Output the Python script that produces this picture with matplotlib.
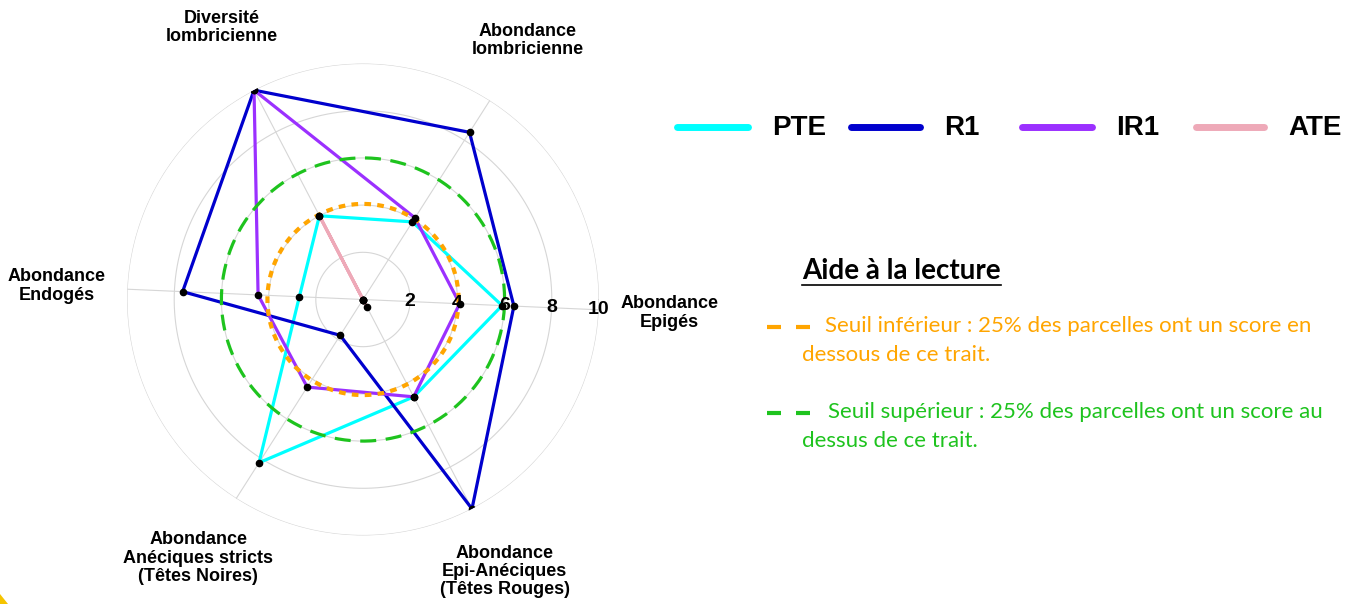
import numpy as np
import matplotlib
matplotlib.use("Agg")
import matplotlib.pyplot as plt

# ---------------- data ----------------
axis_labels = ["Diversité\nlombricienne", "Abondance\nlombricienne", "Abondance\nEpigés",
               "Abondance\nEpi-Anéciques\n(Têtes Rouges)",
               "Abondance\nAnéciques stricts\n(Têtes Noires)", "Abondance\nEndogés"]
series_names = ["PTE", "R1", "IR1", "ATE"]
pte = [4.0, 3.9, 5.9, 4.65, 8.2, 2.7]
r1 = [10.0, 8.4, 6.4, 10.0, 1.8, 7.65]
ir1 = [10.0, 4.1, 4.1, 4.65, 4.4, 4.45]
ate = [4.0, 0.0, 0.0, 0.35, 0.0, 0.0]
seuil_inf = 4.05
seuil_sup = 6.0
grid_levels = [2, 4, 6, 8, 10]
tick_labels = ["2", "4", "6", "8", "10"]
colors = ["#00FFFF", "#0000CD", "#9B30FF", "#EEA9B8"]

W, H = 1354, 604
fig = plt.figure(figsize=(W / 100, H / 100), dpi=100)
fig.patch.set_facecolor("white")

# overlay axes in pixel coordinates for legend / notes
ov = fig.add_axes([0, 0, 1, 1], zorder=0)
ov.set_xlim(0, W)
ov.set_ylim(H, 0)
ov.set_axis_off()
ov.patch.set_alpha(0)

# ---------------- radar ----------------
cx, cy, R = 363, 299.5, 236
ax = fig.add_axes([(cx - R) / W, (H - cy - R) / H, 2 * R / W, 2 * R / H],
                  projection="polar", zorder=1)
ax.set_ylim(0, 10)
ax.set_axis_off()
ax.patch.set_alpha(0)

n = len(axis_labels)
angles = np.deg2rad(117.5 - 60 * np.arange(n))
closed = np.append(angles, angles[0])

th = np.linspace(0, 2 * np.pi, 400)
for lvl in grid_levels:
    ax.plot(th, np.full_like(th, lvl), color="#D6D6D6", lw=0.8, zorder=1)
for a in angles:
    ax.plot([a, a], [0, 10], color="#D6D6D6", lw=0.8, zorder=1)

# series
for vals, c in zip([pte, r1, ir1, ate], colors):
    v = np.append(vals, vals[0])
    ax.plot(closed, v, color=c, lw=2.3, zorder=3)

# thresholds
ax.plot(th, np.full_like(th, seuil_sup), color="#1EC31E", lw=2.3,
        linestyle=(0, (5, 3)), zorder=4)
ax.plot(th, np.full_like(th, seuil_inf), color="#FFA500", lw=3.0,
        linestyle=(0, (1.6, 1.5)), zorder=4)

# points
for vals in [pte, r1, ir1, ate]:
    ax.plot(angles, vals, "o", color="black", ms=4.5, zorder=6, linestyle="none")

# tick labels along Epigés axis
for lvl, t in zip(grid_levels, tick_labels):
    ax.text(angles[2], lvl, t, ha="center", va="center", fontsize=14,
            fontweight="bold", family="Liberation Sans", zorder=7)

# axis labels
for a, lab in zip(angles, axis_labels):
    ax.text(a, 13.0, lab, ha="center", va="center", fontsize=13,
            fontweight="bold", family="Liberation Sans", linespacing=1.1)

# ---------------- legend ----------------
leg_lines = [(677, 748), (851, 920), (1022, 1092), (1196, 1264)]
leg_text_x = [772, 944, 1116, 1288]
for (x0, x1), tx, c, name in zip(leg_lines, leg_text_x, colors, series_names):
    ov.plot([x0, x1], [127, 127], color=c, lw=5, solid_capstyle="round")
    ov.text(tx, 128, name, ha="left", va="center", fontsize=20,
            fontweight="bold", family="Liberation Sans")

# ---------------- reading aid ----------------
note_font = "Lato"
ov.text(802, 271, "Aide à la lecture", ha="left", va="center", fontsize=20,
        fontweight="bold", family=note_font)
ov.plot([802, 1001], [285, 285], color="black", lw=1.2)

orange = "#FFA500"
green = "#1EC31E"
for y, c in [(327, orange), (413, green)]:
    ov.plot([767, 781], [y, y], color=c, lw=3, solid_capstyle="butt")
    ov.plot([796, 810], [y, y], color=c, lw=3, solid_capstyle="butt")
ov.text(825, 326, "Seuil inférieur : 25% des parcelles ont un score en",
        ha="left", va="center", fontsize=16, color=orange, family=note_font)
ov.text(802, 355, "dessous de ce trait.", ha="left", va="center", fontsize=16,
        color=orange, family=note_font)
ov.text(828, 412, "Seuil supérieur : 25% des parcelles ont un score au",
        ha="left", va="center", fontsize=16, color=green, family=note_font)
ov.text(802, 441, "dessus de ce trait.", ha="left", va="center", fontsize=16,
        color=green, family=note_font)

# small yellow corner
ov.fill([0, 0, 8], [594, 604, 604], color="#F5C400", lw=0)

fig.savefig("out.png", dpi=100, facecolor="white")
